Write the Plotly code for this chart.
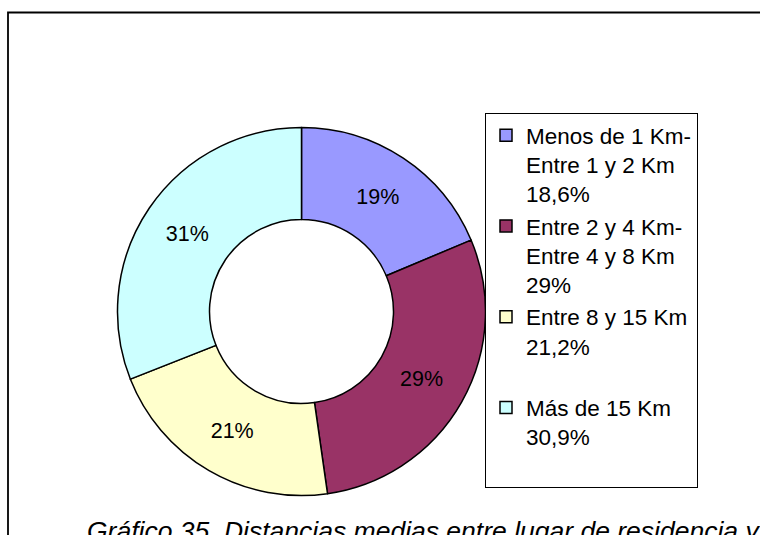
import plotly.graph_objects as go

# Distance bands (each entry may span several legend lines)
categories = [
    ["Menos de 1 Km-", "Entre 1 y 2 Km"],
    ["Entre 2 y 4 Km-", "Entre 4 y 8 Km"],
    ["Entre 8 y 15 Km"],
    ["Más de 15 Km"],
]
shares = [18.6, 29, 21.2, 30.9]
colors = ["#9999FF", "#993366", "#FFFFCC", "#CCFFFF"]
caption = "Gráfico 35. Distancias medias entre lugar de residencia y"

W, H = 760, 535


def fmt_share(v):
    return f"{v:g}".replace(".", ",") + "%"


# Legend labels: category lines + share; every entry padded to three lines
labels = []
for cat, v in zip(categories, shares):
    lines = cat + [fmt_share(v)]
    while len(lines) < 3:
        lines.append("\u00a0")
    labels.append("<br>".join(lines))

# Donut geometry in pixels
cx, cy, R = 301.5, 311.5, 184

fig = go.Figure(
    go.Pie(
        labels=labels,
        values=shares,
        sort=False,
        direction="clockwise",
        rotation=0,
        hole=0.5,
        marker=dict(colors=colors, line=dict(color="black", width=1.5)),
        texttemplate="%{value:.0f}%",
        textposition="inside",
        insidetextorientation="horizontal",
        textfont=dict(family="Arial, Liberation Sans", size=21.5, color="black"),
        hoverinfo="skip",
        domain=dict(
            x=[(cx - R) / W, (cx + R) / W],
            y=[1 - (cy + R) / H, 1 - (cy - R) / H],
        ),
    )
)

fig.update_layout(
    width=W,
    height=H,
    autosize=False,
    margin=dict(l=0, r=0, t=0, b=0),
    paper_bgcolor="white",
    plot_bgcolor="white",
    font=dict(family="Arial, Liberation Sans", color="black"),
    legend=dict(
        x=485 / W,
        xanchor="left",
        y=1 - 113 / H,
        yanchor="top",
        bordercolor="black",
        borderwidth=1,
        bgcolor="white",
        valign="top",
        font=dict(family="Arial, Liberation Sans", size=22.5, color="black"),
    ),
    shapes=[
        # outer chart frame, running past the right and bottom edges
        dict(
            type="rect",
            xref="paper",
            yref="paper",
            x0=8 / W,
            x1=1.1,
            y0=-0.1,
            y1=1 - 12.5 / H,
            line=dict(color="black", width=1.8),
            fillcolor="rgba(0,0,0,0)",
            layer="above",
        )
    ],
    annotations=[
        dict(
            text=f"<i>{caption}</i>",
            xref="paper",
            yref="paper",
            x=85 / W,
            xanchor="left",
            y=1 - 514 / H,
            yanchor="top",
            showarrow=False,
            font=dict(family="Arial, Liberation Sans", size=26.5, color="black"),
        )
    ],
)

fig.write_html("out.html")
